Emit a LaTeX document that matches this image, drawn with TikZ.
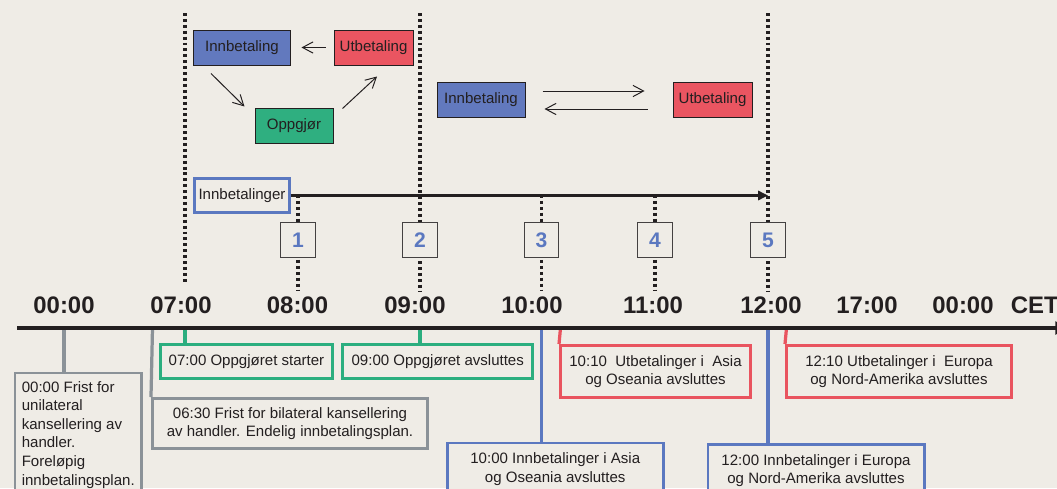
\documentclass[tikz,border=0pt]{standalone}
\usepackage{fontspec}
\setmainfont{Liberation Sans}
\usetikzlibrary{arrows.meta,positioning}

\definecolor{paper}{HTML}{EFECE6}
\definecolor{ink}{HTML}{231F20}
\definecolor{innblue}{HTML}{6279BE}
\definecolor{utred}{HTML}{EA5561}
\definecolor{oppgreen}{HTML}{2FAF80}
\definecolor{lineblue}{HTML}{5B78C0}
\definecolor{linered}{HTML}{E9545F}
\definecolor{linegreen}{HTML}{2BAE7F}
\definecolor{linegray}{HTML}{8B9298}

\begin{document}
\begin{tikzpicture}[x=0.025cm,y=-0.025cm,>={Straight Barb[length=7.5pt,width=8pt]},
  font=\fontsize{10.7}{13.2}\selectfont,
  every node/.style={text=ink},
  flowbox/.style={draw=ink,line width=0.7pt,minimum height=0.875cm,inner sep=0pt},
  flow/.style={->,draw=ink,line width=0.7pt},
  marker/.style={draw=ink!85,fill=paper,line width=0.8pt,minimum width=0.86cm,
    minimum height=0.875cm,inner sep=0pt,text=lineblue,font=\fontsize{15}{15}\selectfont\bfseries},
  hourdots/.style={draw=ink,line width=2.4pt,dash pattern=on 2.1pt off 2.1pt},
  hour/.style={font=\fontsize{17}{17}\selectfont\bfseries},
  ticklink/.style={line width=2.3pt},
  note/.style={draw,fill=paper,line width=2.1pt,inner sep=0pt,align=center,minimum height=0.85cm}]

  \fill[paper] (0,0) rectangle (1057,488);
  \useasboundingbox (0,0) rectangle (1057,488);
  \clip (0,0) rectangle (1057,488);

  % Dotted hour lines
  \coordinate (d07 top) at (185,13);  \coordinate (d07 foot) at (185,283);
  \coordinate (d09 top) at (420,13);  \coordinate (d09 foot) at (420,291);
  \coordinate (d12 top) at (768,13);  \coordinate (d12 foot) at (768,291);
  \draw[hourdots] (d07 top) -- (d07 foot);
  \draw[hourdots] (d09 top) -- (d09 foot);
  \draw[hourdots] (d12 top) -- (d12 foot);
  \foreach \n/\x in {1/298,3/541.5,4/655} {
    \coordinate (m\n top) at (\x,195);
    \coordinate (m\n foot) at (\x,291);
    \draw[hourdots] (m\n top) -- (m\n foot);
  }

  % Payment cycle until 09:00
  \node[flowbox,fill=innblue,minimum width=2.4cm]    (inn1)                        at (242,47.5)  {Innbetaling};
  \node[flowbox,fill=utred,minimum width=1.975cm]    (ut1)  [right=1.075cm of inn1]                 {Utbetaling};
  \node[flowbox,fill=oppgreen,minimum width=1.95cm]  (opp)                         at (294,125.5) {Oppgjør};
  \draw[flow,shorten <=0.2cm,shorten >=0.275cm] (ut1) -- (inn1);
  \draw[flow] ([xshift=-0.775cm,yshift=-0.2cm]inn1.south) -- ([xshift=-0.25cm,yshift=0.025cm]opp.north west);
  \draw[flow] ([xshift=0.225cm,yshift=-0.025cm]opp.north east) -- ([xshift=0.0875cm,yshift=-0.275cm]ut1.south);

  % Payments after 09:00
  \node[flowbox,fill=innblue,minimum width=2.2cm]    (inn2)                        at (481,99.5)  {Innbetaling};
  \node[flowbox,fill=utred,minimum width=1.975cm]    (ut2)  [right=3.675cm of inn2]                 {Utbetaling};
  \draw[flow] ([xshift=0.425cm,yshift=0.2125cm]inn2.east) -- ([xshift=-0.7cm,yshift=0.2125cm]ut2.west);
  \draw[flow] ([xshift=-0.625cm,yshift=-0.2375cm]ut2.west) -- ([xshift=0.475cm,yshift=-0.2375cm]inn2.east);

  % Innbetalinger and the five deadlines
  \node[draw=lineblue,line width=2.1pt,fill=paper,minimum width=2.375cm,minimum height=0.85cm,
    inner sep=0pt] (innb) at (242,195.5) {Innbetalinger};
  \coordinate (innb end) at (768,195.5);
  \draw[line width=2pt,draw=ink,-{Triangle[length=7pt,width=6.5pt]}] (innb.east) -- (innb end);
  \foreach \n/\x in {1/298,2/420,3/541.5,4/655,5/768}
    \node[marker] (m\n) at (\x,240) {\n};

  % Hours
  \foreach \lab/\x [count=\i] in {00:00/64,07:00/181,08:00/297.5,09:00/415,10:00/532,
                                   11:00/653,12:00/771,17:00/867,00:00/963}
    \node[hour] (h\i) at (\x,305.5) {\lab};
  \node[hour,anchor=west] (cet) at (1006,305.5) {CET};

  % Notes below the axis
  \coordinate (t0000) at (64,328);
  \coordinate (t0630) at (152.5,328);
  \coordinate (t0700) at (185,328);
  \coordinate (t0900) at (420,328);
  \coordinate (t1000) at (541.6,328);
  \coordinate (t1010) at (560.5,328);
  \coordinate (t1200) at (768,328);
  \coordinate (t1210) at (786.5,328);

  \node[note,draw=linegray,anchor=north west,align=left,inner xsep=0.17cm,inner ysep=0.21cm]
    (frist1) at (13.5,371.5) {00:00 Frist for\\unilateral\\kansellering av\\handler.\\Foreløpig\\innbetalingsplan.};
  \node[note,draw=linegray,minimum width=6.875cm,minimum height=1.25cm]
    (frist2) at (290,423.5) {06:30 Frist for bilateral kansellering\\av handler. Endelig innbetalingsplan.};
  \node[note,draw=linegreen,minimum width=4.3cm]  (start07) at (246.5,361.5) {07:00 Oppgjøret starter};
  \node[note,draw=linegreen,minimum width=4.74cm] (end09)   at (437.75,361.5) {09:00 Oppgjøret avsluttes};
  \node[note,draw=linered,minimum width=4.75cm,minimum height=1.3cm]
    (ut1010) at (655.5,371.5) {10:10\ \ Utbetalinger i\ \ Asia\\og Oseania avsluttes};
  \node[note,draw=linered,minimum width=5.625cm,minimum height=1.3cm]
    (ut1210) at (899,371.5) {12:10 Utbetalinger i\ \ Europa\\og Nord-Amerika avsluttes};
  \node[note,draw=lineblue,anchor=north,minimum width=5.39cm,inner ysep=0.25cm]
    (inn10) at (555.25,441.5) {10:00 Innbetalinger i Asia\\og Oseania avsluttes};
  \node[note,draw=lineblue,anchor=north,minimum width=5.4cm,inner ysep=0.25cm]
    (inn12) at (816,443) {12:00 Innbetalinger i Europa\\og Nord-Amerika avsluttes};

  \draw[ticklink,linegray]  (t0000) -- (frist1.north -| t0000);
  \draw[ticklink,linegray]  (t0630) -- (frist2.north west);
  \draw[ticklink,linegreen] (t0700) -- (start07.north -| t0700);
  \draw[ticklink,linegreen] (t0900) -- (end09.north -| t0900);
  \draw[ticklink,lineblue]  (t1000) -- (inn10.north -| t1000);
  \draw[ticklink,linered]   (t1010) -- (ut1010.north west);
  \draw[ticklink,lineblue]  (t1200) -- (inn12.north -| t1200);
  \draw[ticklink,linered]   (t1210) -- (ut1210.north west);

  % Time axis
  \coordinate (axis start) at (17,328);
  \coordinate (axis end) at (1068,328);
  \draw[line width=2.3pt,draw=ink,-{Triangle[length=9pt,width=9pt]}] (axis start) -- (axis end);
\end{tikzpicture}
\end{document}
